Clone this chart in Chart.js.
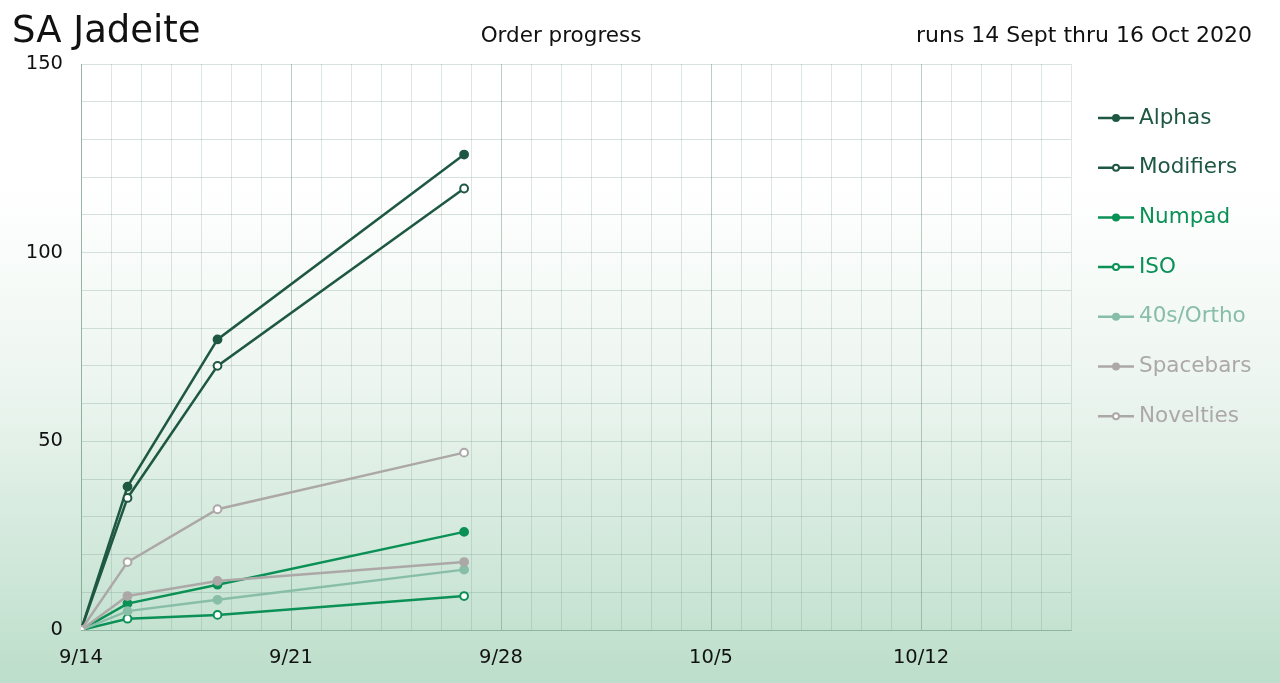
<!DOCTYPE html>
<html>
<head>
<meta charset="utf-8">
<script src="https://cdn.jsdelivr.net/npm/chart.js@4"></script>
<style>
  html, body { margin: 0; padding: 0; background: #fff; }
  #wrap { width: 1280px; height: 683px; }
</style>
</head>
<body>
<div id="wrap"><canvas id="myChart" width="1280" height="683"></canvas></div>
<script>
// days since 14 Sept 2020 for each order snapshot
const days = [0, 1.55, 4.55, 12.77];
const startDate = new Date(2020, 8, 14);

const alphas = [0, 38, 77, 126];
const modifiers = [0, 35, 70, 117];
const numpad = [0, 7, 12, 26];
const iso = [0, 3, 4, 9];
const ortho = [0, 5, 8, 16];
const spacebars = [0, 9, 13, 18];
const novelties = [0, 18, 32, 47];

const yLabels = [0, 50, 100, 150];

const font = "'DejaVu Sans', 'Open Sans', sans-serif";

const darkGreen = "#1e5843";
const midGreen = "#0b9056";
const lightGreen = "#88bea7";
const grey = "#aca8a7";

function series(label, values, color, open) {
    return {
        label: label,
        data: values.map((v, i) => ({ x: days[i], y: v })),
        borderColor: color,
        backgroundColor: open ? "#ffffff" : color,
        pointBackgroundColor: open ? "#ffffff" : color,
        pointBorderColor: color,
        pointBorderWidth: 2,
        pointRadius: 3.9,
        borderWidth: 2.5,
        open: open
    };
}

const bgPlugin = {
    id: "bg",
    beforeDraw(chart) {
        const ctx = chart.ctx;
        const g = ctx.createLinearGradient(0, 0, 0, chart.height);
        g.addColorStop(0, "#ffffff");
        g.addColorStop(0.27, "#ffffff");
        g.addColorStop(0.55, "#eef6f1");
        g.addColorStop(1, "#bcdeca");
        ctx.save();
        ctx.fillStyle = g;
        ctx.fillRect(0, 0, chart.width, chart.height);
        ctx.restore();
    }
};

const headerPlugin = {
    id: "header",
    afterDraw(chart) {
        const ctx = chart.ctx;
        ctx.save();
        ctx.fillStyle = "#111";
        ctx.textBaseline = "alphabetic";
        ctx.font = "37px " + font;
        ctx.textAlign = "left";
        ctx.fillText("SA Jadeite", 12, 42);
        ctx.font = "21.5px " + font;
        ctx.textAlign = "center";
        ctx.fillText("Order progress", 561, 42);
        ctx.font = "22px " + font;
        ctx.textAlign = "right";
        ctx.fillText("runs 14 Sept thru 16 Oct 2020", 1252, 42);
        ctx.restore();
    }
};

// legend in dataset order Alphas..Novelties (datasets are stored reversed so Alphas draws on top)
const legendPlugin = {
    id: "sideLegend",
    afterDraw(chart) {
        const ctx = chart.ctx;
        const list = chart.data.datasets.slice().reverse();
        ctx.save();
        ctx.font = "21.5px " + font;
        ctx.textBaseline = "middle";
        ctx.textAlign = "left";
        list.forEach((ds, i) => {
            const y = 118 + i * 49.7;
            ctx.strokeStyle = ds.borderColor;
            ctx.lineWidth = 2.5;
            ctx.beginPath();
            ctx.moveTo(1098, y);
            ctx.lineTo(1134, y);
            ctx.stroke();
            ctx.beginPath();
            ctx.arc(1116, y, 3, 0, Math.PI * 2);
            ctx.fillStyle = ds.open ? "#ffffff" : ds.borderColor;
            ctx.fill();
            ctx.lineWidth = 2;
            ctx.stroke();
            ctx.fillStyle = ds.borderColor;
            ctx.fillText(ds.label, 1139, y);
        });
        ctx.restore();
    }
};

const ctx = document.getElementById("myChart").getContext("2d");

new Chart(ctx, {
    type: "line",
    data: {
        datasets: [
            series("Alphas", alphas, darkGreen, false),
            series("Modifiers", modifiers, darkGreen, true),
            series("Numpad", numpad, midGreen, false),
            series("ISO", iso, midGreen, true),
            series("40s/Ortho", ortho, lightGreen, false),
            series("Spacebars", spacebars, grey, false),
            series("Novelties", novelties, grey, true)
        ].reverse()
    },
    options: {
        responsive: false,
        animation: false,
        layout: { padding: { top: 64, right: 209, left: 0, bottom: 0 } },
        plugins: {
            legend: { display: false },
            tooltip: { enabled: false }
        },
        scales: {
            x: {
                type: "linear",
                min: 0,
                max: 33,
                ticks: {
                    stepSize: 1,
                    autoSkip: false,
                    maxRotation: 0,
                    color: "#111",
                    font: { family: font, size: 19.5 },
                    padding: 16,
                    callback: v => {
                        if (v % 7 !== 0) return "";
                        const d = new Date(startDate.getTime() + v * 86400000);
                        return (d.getMonth() + 1) + "/" + d.getDate();
                    }
                },
                grid: {
                    color: c => c.tick && c.tick.value % 7 === 0 ? "rgba(90,130,112,0.4)" : "rgba(110,150,132,0.24)",
                    drawTicks: false,
                    lineWidth: 1
                },
                border: { color: "rgba(110,150,132,0.45)" },
                afterFit: s => { s.height = 53; }
            },
            y: {
                min: 0,
                max: 150,
                ticks: {
                    stepSize: 10,
                    color: "#111",
                    font: { family: font, size: 19.5 },
                    padding: 18,
                    callback: v => yLabels.includes(v) ? String(v) : ""
                },
                grid: {
                    color: "rgba(110,150,132,0.28)",
                    drawTicks: false
                },
                border: { color: "rgba(110,150,132,0.45)" },
                afterFit: s => { s.width = 81; }
            }
        }
    },
    plugins: [bgPlugin, headerPlugin, legendPlugin]
});
</script>
</body>
</html>
